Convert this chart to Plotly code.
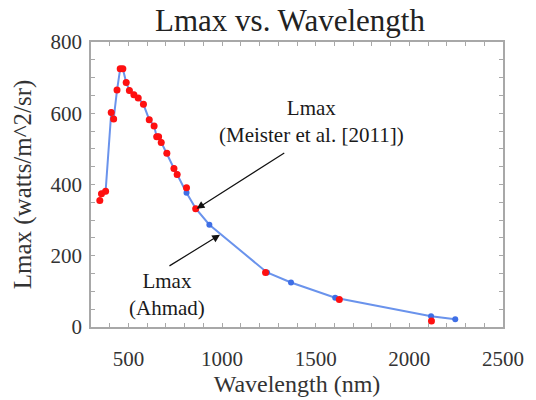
import plotly.graph_objects as go

# Lmax estimates (watts/m^2/sr) by band centre wavelength (nm)
ahmad_wl = [356, 378, 408, 421, 439, 456, 470, 488, 505, 529, 552, 580, 611,
            637, 651, 661, 675, 705, 743, 760, 810, 860, 932, 1240, 1368,
            1604, 2116, 2245]
ahmad_lmax = [374, 381, 602, 584, 665, 725, 725, 686, 664, 652, 643, 625, 582,
              564, 534, 534, 518, 488, 445, 428, 377, 332, 287, 153, 125,
              82, 30, 22]

meister_wl = [347, 356, 378, 408, 421, 439, 456, 470, 488, 505, 529, 552, 580,
              611, 637, 651, 661, 675, 705, 743, 760, 810, 859, 1232, 1626,
              2118]
meister_lmax = [355, 374, 381, 602, 584, 665, 725, 725, 686, 664, 652, 643, 625,
                582, 564, 534, 534, 518, 488, 445, 428, 391, 332, 153, 77,
                17]

x_ticks = [500, 1000, 1500, 2000, 2500]
y_ticks = [0, 200, 400, 600, 800]

SERIF = "Liberation Serif"
FRAME = "#a8a8a8"

fig = go.Figure()
fig.add_trace(go.Scatter(
    x=ahmad_wl, y=ahmad_lmax, mode="lines+markers",
    line=dict(color="#6a93ec", width=2),
    marker=dict(color="#3f6fe6", size=6),
    showlegend=False,
))
fig.add_trace(go.Scatter(
    x=meister_wl, y=meister_lmax, mode="markers",
    marker=dict(color="#ff1010", size=7),
    showlegend=False,
))

axis_common = dict(
    showline=True, linecolor=FRAME, linewidth=1.5, mirror="ticks",
    ticks="inside", ticklen=4, tickcolor=FRAME, tickwidth=1,
    showgrid=False, zeroline=False,
    tickfont=dict(family=SERIF, size=21, color="#333333"),
)

fig.update_xaxes(
    range=[300, 2500], tickvals=x_ticks,
    minor=dict(dtick=100, ticks="inside", ticklen=4, tickcolor=FRAME),
    title=dict(text="Wavelength (nm)", font=dict(family=SERIF, size=24, color="#333333"),
               standoff=0),
    ticklabelstandoff=12,
    **axis_common,
)
fig.update_yaxes(
    range=[0, 800], tickvals=y_ticks,
    minor=dict(dtick=50, ticks="inside", ticklen=4, tickcolor=FRAME),
    title=dict(text="Lmax (watts/m^2/sr)", font=dict(family=SERIF, size=25, color="#333333"),
               standoff=12),
    ticklabelstandoff=3,
    **axis_common,
)

arrow_style = dict(showarrow=True, arrowhead=2, arrowsize=1.3, arrowwidth=1.2,
                   arrowcolor="#111111", axref="x", ayref="y", text="",
                   xref="x", yref="y", standoff=0, startstandoff=0)
# Meister et al. label and arrow
fig.add_annotation(x=864, y=332, ax=1340, ay=491, **arrow_style)
# Ahmad label and arrow
fig.add_annotation(x=989, y=259, ax=711, ay=169, **arrow_style)

label_font = dict(family=SERIF, size=21, color="#1a1a1a")
fig.add_annotation(x=1477, y=578, xref="x", yref="y", showarrow=False,
                   text="Lmax<br>(Meister et al. [2011])", font=label_font,
                   align="center")
fig.add_annotation(x=706, y=92, xref="x", yref="y", showarrow=False,
                   text="Lmax<br>(Ahmad)", font=label_font, align="center")

fig.update_layout(
    width=536, height=400,
    margin=dict(l=91, r=25, t=42, b=65),
    paper_bgcolor="white", plot_bgcolor="white",
    title=dict(text="Lmax vs. Wavelength", x=0.541, xref="container", xanchor="center",
               y=0.95, yref="container", yanchor="middle",
               font=dict(family=SERIF, size=31, color="#222222")),
    font=dict(family=SERIF),
)

fig.write_html("out.html")
